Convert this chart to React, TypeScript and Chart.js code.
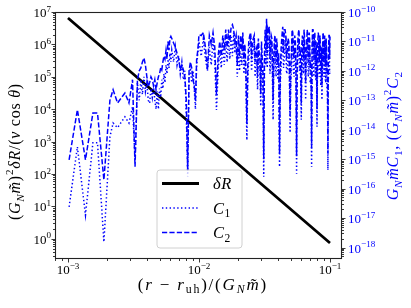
import React, { useEffect, useRef } from 'react';
import { Chart, registerables } from 'chart.js';

Chart.register(...registerables);

// ---- data ----
const deltaRX = [0.001, 0.01, 0.1];
const deltaRY = [6.5e6, 2.2e3, 0.74];

const rGrid = [
  0.00102, 0.00118, 0.00136, 0.00155, 0.00168, 0.00188, 0.00209, 0.00221, 0.00239, 0.00272, 0.00292, 0.00311, 0.00325, 0.00339,
  0.0035, 0.0036, 0.0037, 0.0038, 0.0039, 0.004, 0.0041, 0.0042, 0.0043, 0.0044, 0.0045, 0.0046, 0.0047, 0.0048, 0.0049, 0.005,
  0.0051, 0.0052, 0.0053, 0.0054, 0.0055, 0.0056, 0.0057, 0.0058, 0.0059, 0.006, 0.0061,
  0.0062, 0.0064, 0.0066, 0.0068, 0.007, 0.0072, 0.0074, 0.0076, 0.0078, 0.008, 0.0082, 0.0084, 0.0086, 0.0088, 0.009, 0.0092,
  0.0094, 0.0096, 0.0098, 0.01,
  0.0104, 0.0108, 0.0112, 0.0116, 0.012, 0.0124, 0.0128, 0.0132, 0.0136, 0.014, 0.0144, 0.0148, 0.0152, 0.0156, 0.016, 0.0164,
  0.0168, 0.0172, 0.0176, 0.018, 0.0184, 0.0188, 0.0192, 0.0196, 0.02,
  0.0204, 0.0208, 0.0212, 0.0216, 0.022, 0.0224, 0.0228, 0.0232, 0.0236, 0.024, 0.0244, 0.0248, 0.0252, 0.0256, 0.026, 0.0264,
  0.0268, 0.0272, 0.0276, 0.028, 0.0284, 0.0288, 0.0292, 0.0296, 0.03, 0.0304, 0.0308, 0.0312, 0.0316, 0.032, 0.0324, 0.0328,
  0.0332, 0.0336, 0.034, 0.0344, 0.0348, 0.0352, 0.0356, 0.036, 0.0364, 0.0368, 0.0372, 0.0376, 0.038, 0.0384, 0.0388, 0.0392,
  0.0396, 0.04,
  0.0406, 0.0412, 0.0418, 0.0424, 0.043, 0.0436, 0.0442, 0.0448, 0.0454, 0.046, 0.0466, 0.0472, 0.0478, 0.0484, 0.049, 0.0496,
  0.0502, 0.0508, 0.0514, 0.052, 0.0526, 0.0532, 0.0538, 0.0544, 0.055, 0.0556, 0.0562, 0.0568, 0.0574, 0.058, 0.0586, 0.0592,
  0.0598, 0.0604, 0.061, 0.0616, 0.0622, 0.0628, 0.0634, 0.064, 0.0646, 0.0652, 0.0658, 0.0664, 0.067, 0.0676, 0.0682, 0.0688,
  0.0694, 0.07, 0.0706, 0.0712, 0.0718, 0.0724, 0.073, 0.0736, 0.0742, 0.0748, 0.0754, 0.076, 0.0766, 0.0772, 0.0778, 0.0784,
  0.079, 0.0796, 0.0802, 0.0808, 0.0814, 0.082, 0.0826, 0.0832, 0.0838, 0.0844, 0.085, 0.0856, 0.0862, 0.0868, 0.0874, 0.088,
  0.0886, 0.0892, 0.0898, 0.0904, 0.091, 0.0916, 0.0922, 0.0928, 0.0934, 0.094, 0.0946, 0.0952, 0.0958, 0.0964, 0.097, 0.0976,
  0.0982, 0.0988, 0.0994, 0.1,
];

// log10 of G_N m C_1
const c1Exp = [
  -16.62, -14.58, -16.9, -14.44, -14.44, -17.81, -14.24, -13.77, -13.93, -13.56, -13.77, -13.22, -15.0, -12.4,
  -13.0, -12.3, -12.8, -12.2, -12.7, -12.4, -13.0, -13.1, -12.6, -12.9, -12.5, -13.0, -13.3, -12.7, -13.3, -12.6,
  -12.9, -12.3, -12.6, -12.1, -12.4, -11.8, -12.1, -11.6, -11.9, -11.4, -11.7,
  -11.3, -11.7, -11.2, -11.8, -11.5, -12.1, -11.7, -12.3, -12.0, -13.5, -15.6, -12.2, -11.9, -12.4, -12.0, -12.6,
  -13.3, -11.8, -11.4, -11.0,
  -11.5, -10.9, -11.6, -12.0, -11.2, -11.8, -11.0, -11.7, -13.33, -12.0, -11.3, -11.9, -11.1, -11.8, -11.0, -11.7,
  -10.9, -11.6, -10.8, -11.5, -10.7, -11.4, -11.0, -12.2, -11.3,
  -12.0, -11.4, -11.8, -10.9, -12.1, -11.6, -12.3, -14.35, -12.2, -11.6,
  -11.1, -10.8, -12.0, -11.5, -11.3, -11.0, -12.2, -11.8, -11.6, -12.64,
  -11.3, -11.8, -12.0, -13.2, -11.4, -12.0, -12.6, -15.6, -12.0, -11.2,
  -11.8, -10.5, -11.9, -11.3, -11.0, -10.8, -12.1, -11.7, -11.0, -11.2,
  -12.4, -13.66, -12.1, -11.4, -11.1, -12.0, -12.2, -11.3, -11.6, -12.3,
  -11.9, -15.26, -12.4, -11.8, -11.3, -10.9, -11.9, -11.6, -11.1, -11.0,
  -12.1, -12.0, -11.4, -11.3, -12.3, -14.1, -12.4, -11.9, -11.0, -11.1,
  -12.0, -12.2, -11.2, -11.4, -12.5, -15.5, -12.2, -11.6, -11.1, -10.9,
  -12.0, -11.8, -12.5, -13.66, -11.6, -11.3, -11.9, -12.1, -11.0, -11.2,
  -12.1, -12.98, -11.8, -11.6, -10.9, -11.2, -12.2, -12.0, -11.1, -11.4,
  -12.4, -12.3, -12.8, -15.26, -11.8, -11.0, -10.8, -11.7, -12.2, -11.1,
  -11.0, -12.0, -12.3, -11.4, -12.4, -13.9, -12.1, -11.6, -11.0, -11.2,
  -12.2, -12.1, -11.1, -11.4, -12.5, -12.3, -11.7, -12.98, -12.0, -11.5,
  -11.0, -11.2, -12.2, -12.0, -11.1, -11.4, -12.3, -12.4, -11.3, -11.6,
  -12.5, -12.6, -13.0, -15.37, -12.4, -11.8, -11.0, -11.2, -12.1, -12.0,
];

// log10 of (G_N m)^2 C_2
const c2Exp = [
  -15.02, -13.32, -15.02, -13.43, -13.43, -15.7, -13.0, -12.64, -13.09, -12.75, -13.09, -12.3, -15.26, -12.3,
  -12.0, -11.9, -11.7, -11.56, -11.8, -12.2, -12.54, -12.4, -12.2, -12.3, -12.5, -12.3, -12.64, -12.4, -12.2, -12.1,
  -11.9, -11.97, -11.7, -11.5, -11.6, -11.3, -11.6, -11.0, -11.3, -10.9, -10.83,
  -10.9, -11.05, -11.2, -11.4, -11.6, -11.97, -11.8, -11.97, -12.2, -13.0, -15.4, -12.0, -11.7, -11.9, -12.3, -12.5,
  -13.0, -11.6, -11.3, -10.77,
  -10.8, -10.7, -11.2, -11.97, -10.8, -11.1, -10.7, -11.2, -12.8, -11.5, -11.0, -11.5, -10.8, -11.3, -10.6, -11.2,
  -10.6, -11.0, -10.5, -10.43, -10.6, -11.0, -10.8, -11.8, -10.8,
  -11.5, -10.8, -11.3, -10.7, -11.6, -11.1, -11.9, -13.8, -11.7, -11.0,
  -10.8, -10.7, -11.6, -11.0, -10.9, -10.8, -11.7, -11.3, -11.2, -12.2,
  -10.9, -11.4, -11.6, -12.8, -11.0, -11.6, -12.1, -15.0, -11.5, -10.6,
  -11.3, -10.23, -11.4, -10.6, -10.7, -10.5, -11.6, -11.1, -10.8, -10.9,
  -11.9, -13.0, -11.6, -11.0, -10.8, -11.3, -11.7, -10.9, -11.2, -11.8,
  -11.4, -14.8, -11.9, -11.2, -10.8, -10.5, -11.4, -10.6, -10.6, -10.8,
  -11.6, -11.3, -10.9, -11.0, -11.8, -13.5, -11.9, -11.3, -10.6, -10.7,
  -11.5, -11.5, -10.8, -11.0, -12.0, -14.9, -11.7, -11.0, -10.7, -10.6,
  -11.5, -11.2, -12.0, -13.1, -11.1, -10.8, -11.4, -11.5, -10.6, -10.9,
  -11.6, -12.4, -11.3, -11.1, -10.6, -10.8, -11.7, -11.4, -10.7, -11.0,
  -11.9, -11.7, -12.3, -14.6, -11.2, -10.6, -10.6, -10.7, -11.6, -10.8,
  -10.7, -11.3, -11.8, -11.0, -11.9, -13.3, -11.6, -11.0, -10.7, -10.9,
  -11.7, -11.5, -10.8, -11.1, -12.0, -11.7, -11.2, -12.5, -11.5, -11.0,
  -10.7, -10.9, -11.7, -11.3, -10.8, -11.0, -11.8, -11.6, -10.9, -11.2,
  -12.0, -11.9, -12.5, -14.8, -11.8, -11.2, -10.8, -10.8, -11.6, -10.83,
];

const xMin = 7.96e-4;
const xMax = 0.1235;
const yLeftMin = 0.238;
const yLeftMax = 1e7;
const yRightMin = 4.07e-19;
const yRightMax = 1.0e-10;

const BLUE = '#0000ff';
const SERIF = '"Liberation Serif", "Times New Roman", serif';

type Run = { t: string; it?: boolean; sub?: boolean; sup?: boolean };

function runFont(size: number, r: Run) {
  const s = r.sub || r.sup ? size * 0.7 : size;
  return `${r.it ? 'italic ' : ''}${s}px ${SERIF}`;
}
function clusters(s: string): string[] {
  const out: string[] = [];
  for (const ch of Array.from(s)) {
    if (/[\u0300-\u036f]/.test(ch) && out.length) out[out.length - 1] += ch;
    else out.push(ch);
  }
  return out;
}
function measureRuns(ctx: CanvasRenderingContext2D, runs: Run[], size: number, ls: number) {
  let w = 0;
  for (const r of runs) {
    ctx.font = runFont(size, r);
    for (const g of clusters(r.t)) w += ctx.measureText(g).width + ls;
  }
  return w - ls;
}
function drawRuns(
  ctx: CanvasRenderingContext2D,
  runs: Run[],
  size: number,
  x: number,
  y: number,
  align: 'left' | 'center' | 'right',
  color: string,
  ls = 0
) {
  const w = measureRuns(ctx, runs, size, ls);
  let cx = align === 'center' ? x - w / 2 : align === 'right' ? x - w : x;
  ctx.fillStyle = color;
  ctx.textBaseline = 'alphabetic';
  ctx.textAlign = 'left';
  for (const r of runs) {
    ctx.font = runFont(size, r);
    const dy = r.sub ? size * 0.22 : r.sup ? -size * 0.42 : 0;
    for (const g of clusters(r.t)) {
      ctx.fillText(g, cx, y + dy);
      cx += ctx.measureText(g).width + ls;
    }
  }
}

function expRuns(e: number): Run[] {
  const s = e < 0 ? '\u2212' + String(-e) : String(e);
  return [{ t: '10' }, { t: s, sup: true }];
}

const xTitle: Run[] = [
  { t: '(' }, { t: 'r', it: true }, { t: ' \u2212 ' }, { t: 'r', it: true }, { t: 'uh', sub: true },
  { t: ')/(' }, { t: 'G', it: true }, { t: 'N', it: true, sub: true }, { t: 'm\u0303', it: true }, { t: ')' },
];
const yLeftTitle: Run[] = [
  { t: '(' }, { t: 'G', it: true }, { t: 'N', it: true, sub: true }, { t: 'm\u0303', it: true }, { t: ')' },
  { t: '2', sup: true }, { t: '\u03b4R', it: true }, { t: '/(' }, { t: 'v', it: true }, { t: ' cos ' },
  { t: '\u03b8', it: true }, { t: ')' },
];
const yRightTitle: Run[] = [
  { t: 'G', it: true }, { t: 'N', it: true, sub: true }, { t: 'm\u0303C', it: true }, { t: '1', sub: true },
  { t: ', (' }, { t: 'G', it: true }, { t: 'N', it: true, sub: true }, { t: 'm\u0303', it: true }, { t: ')' },
  { t: '2', sup: true }, { t: 'C', it: true }, { t: '2', sub: true },
];

const decorPlugin = {
  id: 'decor',
  afterDatasetsDraw(chart: any) {
    const ctx: CanvasRenderingContext2D = chart.ctx;
    const { left, right, top, bottom } = chart.chartArea;
    const sx = chart.scales.x;
    const sy = chart.scales.y;
    const sy2 = chart.scales.y2;
    ctx.save();

    // legend
    const lx = 157, ly = 170, lw = 85, lh = 78, rad = 3;
    ctx.beginPath();
    ctx.moveTo(lx + rad, ly);
    ctx.arcTo(lx + lw, ly, lx + lw, ly + lh, rad);
    ctx.arcTo(lx + lw, ly + lh, lx, ly + lh, rad);
    ctx.arcTo(lx, ly + lh, lx, ly, rad);
    ctx.arcTo(lx, ly, lx + lw, ly, rad);
    ctx.closePath();
    ctx.fillStyle = 'rgba(255,255,255,0.8)';
    ctx.fill();
    ctx.strokeStyle = '#d0d0d0';
    ctx.lineWidth = 1;
    ctx.stroke();

    const items = [
      { y: 183.5, color: '#000', w: 2.8, dash: [] as number[], label: [{ t: '\u03b4R', it: true }] as Run[] },
      { y: 208, color: BLUE, w: 1.5, dash: [1.4, 2.4], label: [{ t: 'C', it: true }, { t: '1', sub: true }] as Run[] },
      { y: 232.5, color: BLUE, w: 1.5, dash: [5.2, 2.2], label: [{ t: 'C', it: true }, { t: '2', sub: true }] as Run[] },
    ];
    for (const it of items) {
      ctx.beginPath();
      ctx.setLineDash(it.dash);
      ctx.strokeStyle = it.color;
      ctx.lineWidth = it.w;
      ctx.moveTo(162, it.y);
      ctx.lineTo(199, it.y);
      ctx.stroke();
      ctx.setLineDash([]);
      drawRuns(ctx, it.label, 16.5, 213, it.y + 5.5, 'left', '#000', 0.6);
    }

    // frame
    ctx.strokeStyle = '#222';
    ctx.lineWidth = 1.1;
    ctx.strokeRect(left + 0.5, top + 0.5, right - left - 1, bottom - top - 1);

    // ticks
    ctx.lineWidth = 0.9;
    ctx.strokeStyle = '#222';
    const drawTicks = (scale: any, min: number, max: number, kind: 'x' | 'yl' | 'yr') => {
      const e0 = Math.floor(Math.log10(min));
      const e1 = Math.ceil(Math.log10(max));
      for (let e = e0; e <= e1; e++) {
        for (let m = 1; m <= 9; m++) {
          const v = m * Math.pow(10, e);
          if (v < min * 0.9999 || v > max * 1.0001) continue;
          const p = Math.round(scale.getPixelForValue(v)) + 0.5;
          const len = m === 1 ? 3.5 : 2;
          ctx.beginPath();
          if (kind === 'x') {
            ctx.moveTo(p, bottom);
            ctx.lineTo(p, bottom + len);
          } else if (kind === 'yl') {
            ctx.moveTo(left, p);
            ctx.lineTo(left - len, p);
          } else {
            ctx.moveTo(right, p);
            ctx.lineTo(right + len, p);
          }
          ctx.stroke();
        }
      }
    };
    drawTicks(sx, xMin, xMax, 'x');
    drawTicks(sy, yLeftMin, yLeftMax, 'yl');
    drawTicks(sy2, yRightMin, yRightMax, 'yr');

    // tick labels
    for (let e = -3; e <= -1; e++) {
      const p = sx.getPixelForValue(Math.pow(10, e));
      drawRuns(ctx, expRuns(e), 13, p, 274, 'center', '#000');
    }
    for (let e = 0; e <= 7; e++) {
      const p = sy.getPixelForValue(Math.pow(10, e));
      drawRuns(ctx, expRuns(e), 13, 51, p + 5, 'right', '#000');
    }
    for (let e = -18; e <= -10; e++) {
      const p = sy2.getPixelForValue(Math.pow(10, e));
      drawRuns(ctx, expRuns(e), 13, 348, p + 5, 'left', BLUE);
    }

    // axis titles
    drawRuns(ctx, xTitle, 17, 202, 289.5, 'center', '#000', 1.8);
    ctx.save();
    ctx.translate(20, 152);
    ctx.rotate(-Math.PI / 2);
    drawRuns(ctx, yLeftTitle, 16, 0, 0, 'center', '#000', 0.75);
    ctx.restore();
    ctx.save();
    ctx.translate(398, 136);
    ctx.rotate(-Math.PI / 2);
    drawRuns(ctx, yRightTitle, 16, 0, 0, 'center', BLUE, 0.75);
    ctx.restore();

    ctx.restore();
  },
};

export default function App() {
  const ref = useRef<HTMLCanvasElement | null>(null);
  useEffect(() => {
    if (!ref.current) return;
    const c1Data = rGrid.map((r, i) => ({ x: r, y: Math.pow(10, c1Exp[i]) }));
    const c2Data = rGrid.map((r, i) => ({ x: r, y: Math.pow(10, c2Exp[i]) }));
    const dRData = deltaRX.map((r, i) => ({ x: r, y: deltaRY[i] }));
    const chart = new Chart(ref.current, {
      type: 'line',
      data: {
        datasets: [
          {
            label: '\u03b4R', data: dRData, yAxisID: 'y', borderColor: '#000', borderWidth: 2.8,
            pointRadius: 0, order: 3, borderCapStyle: 'butt',
          },
          {
            label: 'C1', data: c1Data, yAxisID: 'y2', borderColor: BLUE, borderWidth: 1.5,
            borderDash: [1.4, 2.4], pointRadius: 0, order: 2,
          },
          {
            label: 'C2', data: c2Data, yAxisID: 'y2', borderColor: BLUE, borderWidth: 1.5,
            borderDash: [5.2, 2.2], pointRadius: 0, order: 1,
          },
        ],
      },
      options: {
        animation: false,
        responsive: false,
        devicePixelRatio: 1,
        parsing: false as any,
        normalized: true,
        layout: { padding: { left: 55, right: 69, top: 12, bottom: 49 } },
        plugins: { legend: { display: false }, tooltip: { enabled: false } },
        elements: { line: { tension: 0 } },
        scales: {
          x: { type: 'logarithmic', display: false, min: xMin, max: xMax, bounds: 'data' },
          y: { type: 'logarithmic', display: false, min: yLeftMin, max: yLeftMax, bounds: 'data' },
          y2: { type: 'logarithmic', display: false, min: yRightMin, max: yRightMax, bounds: 'data' },
        },
      },
      plugins: [decorPlugin],
    });
    return () => chart.destroy();
  }, []);
  return (
    <div style={{ position: 'absolute', left: 0, top: 0, width: 411, height: 308, background: '#fff' }}>
      <canvas ref={ref} width={411} height={308} style={{ display: 'block' }} />
    </div>
  );
}
